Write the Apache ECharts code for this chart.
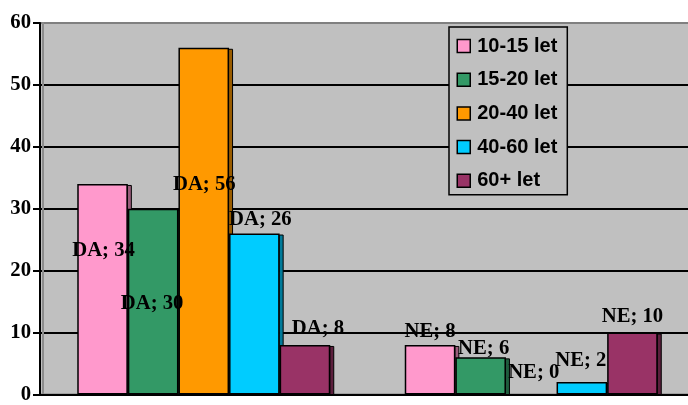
<!DOCTYPE html>
<html>
<head>
<meta charset="utf-8">
<script src="https://cdn.jsdelivr.net/npm/echarts@6/dist/echarts.min.js"></script>
<style>
  html, body { margin: 0; padding: 0; background: #ffffff; overflow: hidden; }
  #chart { width: 695px; height: 405px; }
</style>
</head>
<body>
<div id="chart"></div>
<script>
// Answers grouped by reply (DA / NE), one series per age group
const categories = ['DA', 'NE'];
const seriesNames = ['10-15 let', '15-20 let', '20-40 let', '40-60 let', '60+ let'];
const values1015 = [34, 8];
const values1520 = [30, 6];
const values2040 = [56, 0];
const values4060 = [26, 2];
const values60 = [8, 10];
const yTicks = { min: 0, max: 60, interval: 10 };

// Face colours and darker side faces for the column depth effect
const faceColors = ['#FF99CC', '#339966', '#FF9900', '#00CCFF', '#993366'];
const sideColors = ['#995C7A', '#1F5C3D', '#995C00', '#007A99', '#5C1F3D'];

// Nudges for each data label [dx, dy] relative to the column top
const labelNudges = [
  [[1, 67], [0, -13]],
  [[-1, 95], [3, -9]],
  [[0.5, 137], [2.5, -22]],
  [[6, -14], [-1, -21]],
  [[13, -16], [0, -16]]
];

const allValues = [values1015, values1520, values2040, values4060, values60];

const BAR_W = 50.6;
const SIDE_W = 4;
const groupCount = allValues.length;

const chart = echarts.init(document.getElementById('chart'), null, { renderer: 'canvas' });

// Front faces of the columns; an empty column keeps only its label
const barSeries = allValues.map((vals, i) => ({
  name: seriesNames[i],
  type: 'bar',
  z: 3,
  barWidth: BAR_W,
  barGap: '0%',
  data: vals.map((v, j) => ({
    value: v,
    label: { offset: labelNudges[i][j] },
    itemStyle: v === 0 ? { borderWidth: 0, color: 'rgba(0,0,0,0)' } : undefined
  })),
  itemStyle: {
    color: faceColors[i],
    borderColor: '#000000',
    borderWidth: 1.5
  },
  label: {
    show: true,
    position: 'top',
    distance: 0,
    verticalAlign: 'middle',
    formatter: '{b}; {c}',
    color: '#000000',
    fontFamily: 'Liberation Serif',
    fontWeight: 'bold',
    fontSize: 20.7
  }
}));

// Side faces drawn behind the fronts, positioned from the same values
const sideSeries = allValues.map((vals, i) => ({
  name: 'side-' + seriesNames[i],
  type: 'custom',
  z: 2,
  silent: true,
  data: vals.map((v, j) => [j, v]),
  encode: { x: 0, y: 1 },
  renderItem: function (params, api) {
    const c = api.value(0);
    const v = api.value(1);
    if (v === 0) return null;
    const top = api.coord([c, v]);
    const base = api.coord([c, 0]);
    const right = base[0] - (groupCount * BAR_W) / 2 + (i + 1) * BAR_W;
    return {
      type: 'rect',
      shape: { x: right - 0.5, y: top[1] + 1.5, width: SIDE_W, height: base[1] - top[1] - 1.5 },
      style: { fill: sideColors[i], stroke: '#000000', lineWidth: 1 }
    };
  }
}));

chart.setOption({
  animation: false,
  backgroundColor: '#ffffff',
  grid: {
    left: 40,
    top: 23,
    width: 655,
    height: 377.5,
    show: true,
    backgroundColor: '#C0C0C0',
    borderColor: '#808080',
    borderWidth: 2
  },
  legend: {
    orient: 'vertical',
    left: 449,
    top: 27,
    padding: [9, 10, 4, 7.5],
    itemGap: 13.7,
    itemWidth: 13,
    itemHeight: 13,
    icon: 'rect',
    backgroundColor: '#C0C0C0',
    borderColor: '#000000',
    borderWidth: 1.5,
    itemStyle: {
      borderColor: '#000000',
      borderWidth: 1.5,
      opacity: 1
    },
    textStyle: {
      fontFamily: 'Liberation Sans',
      fontWeight: 'bold',
      fontSize: 20,
      lineHeight: 20,
      color: '#000000',
      padding: [0, 0, 0, 2]
    },
    data: seriesNames
  },
  xAxis: {
    type: 'category',
    data: categories,
    axisLine: { show: true, lineStyle: { color: '#000000', width: 2 } },
    axisTick: { show: false },
    axisLabel: { show: false },
    splitLine: { show: false }
  },
  yAxis: {
    type: 'value',
    min: yTicks.min,
    max: yTicks.max,
    interval: yTicks.interval,
    axisLine: {
      show: true,
      lineStyle: {
        color: '#000000',
        width: 2,
        // grey wall edge just right of the axis
        shadowColor: '#8C8C8C',
        shadowOffsetX: 3,
        shadowBlur: 0
      }
    },
    axisTick: { show: true, length: 7, lineStyle: { color: '#000000', width: 2 } },
    axisLabel: {
      margin: 9,
      color: '#000000',
      fontFamily: 'Liberation Serif',
      fontWeight: 'bold',
      fontSize: 20.7
    },
    splitLine: {
      show: true,
      showMaxLine: false,
      lineStyle: { color: '#000000', width: 2 }
    }
  },
  series: sideSeries.concat(barSeries)
});
</script>
</body>
</html>
